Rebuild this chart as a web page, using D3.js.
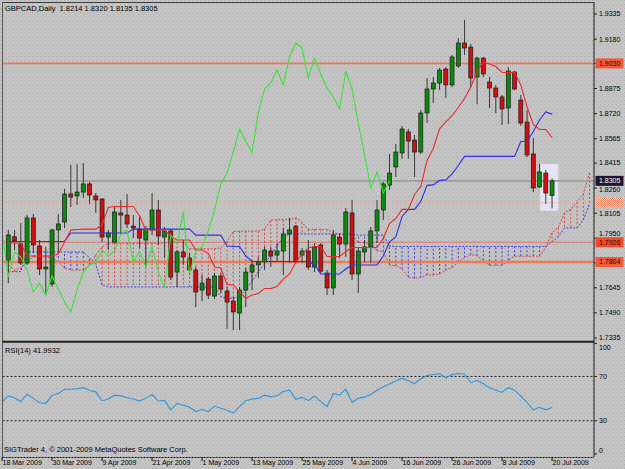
<!DOCTYPE html>
<html><head><meta charset="utf-8">
<script src="https://cdn.jsdelivr.net/npm/d3@7"></script>
<style>
body{margin:0;background:#c3c3c3;}
svg{display:block;font-family:"Liberation Sans",Arial,sans-serif;}
</style></head><body>
<svg id="c" width="625" height="469"></svg>
<script>
// ---------- DATA ----------
const symbolTitle = "GBPCAD,Daily  1.8214 1.8320 1.8135 1.8305";
const rsiTitle = "RSI(14) 41.9932";
const copyright = "SIGTrader 4, \u00a9 2001-2009 MetaQuotes Software Corp.";

const open = [1.7816,1.7960,1.7915,1.7798,1.8076,1.7903,1.7761,1.7668,1.8002,1.8051,
1.8224,1.8212,1.8236,1.8286,1.8212,1.8193,1.7958,1.7927,1.8107,1.8094,
1.8026,1.8008,1.7940,1.8002,1.8125,1.7958,1.7996,1.7742,1.7866,1.7829,
1.7755,1.7631,1.7699,1.7594,1.7718,1.7625,1.7563,1.7489,1.7631,1.7742,
1.7786,1.7804,1.7872,1.7847,1.7872,1.7977,1.8026,1.7847,1.7872,1.7773,
1.7909,1.7736,1.7644,1.7958,1.7915,1.8107,1.7730,1.7866,1.7897,1.7996,
1.8125,1.8279,1.8391,1.8477,1.8607,1.8557,1.8483,1.8724,1.8872,1.8909,
1.8995,1.8897,1.9014,1.9156,1.9131,1.8946,1.9063,1.8915,1.8878,1.8823,
1.8755,1.8977,1.8804,1.8668,1.8471,1.8267,1.8353,1.8214];
const high = [1.8002,1.8002,1.8045,1.8094,1.8101,1.7940,1.7897,1.8008,1.8101,1.8255,
1.8403,1.8409,1.8415,1.8298,1.8230,1.8199,1.8002,1.8150,1.8187,1.8224,
1.8094,1.8094,1.8026,1.8230,1.8187,1.8020,1.8008,1.7878,1.7940,1.7860,
1.7773,1.7724,1.7711,1.7736,1.7736,1.7650,1.7588,1.7650,1.7767,1.7816,
1.7835,1.7897,1.7897,1.7921,1.8014,1.8076,1.8033,1.7891,1.7940,1.7921,
1.7921,1.7755,1.8002,1.7983,1.8137,1.8187,1.7891,1.7940,1.8020,1.8187,
1.8298,1.8471,1.8533,1.8644,1.8625,1.8588,1.8742,1.8940,1.8946,1.9002,
1.9008,1.9082,1.9187,1.9298,1.9150,1.9070,1.9070,1.8946,1.8897,1.8835,
1.9008,1.8983,1.8835,1.8742,1.8570,1.8409,1.8372,1.8320];
const low = [1.7674,1.7878,1.7786,1.7786,1.7860,1.7724,1.7600,1.7650,1.7866,1.8014,
1.8144,1.8156,1.8199,1.8162,1.8107,1.7927,1.7878,1.7921,1.7971,1.8014,
1.7952,1.7891,1.7773,1.7971,1.7909,1.7829,1.7693,1.7650,1.7786,1.7724,
1.7526,1.7563,1.7576,1.7576,1.7613,1.7391,1.7384,1.7384,1.7526,1.7631,
1.7705,1.7755,1.7773,1.7804,1.7724,1.7798,1.7798,1.7798,1.7755,1.7742,
1.7736,1.7600,1.7600,1.7829,1.7835,1.7693,1.7613,1.7804,1.7798,1.7921,
1.8064,1.8249,1.8329,1.8440,1.8440,1.8329,1.8471,1.8662,1.8786,1.8866,
1.8816,1.8884,1.9002,1.9082,1.8884,1.8779,1.8946,1.8755,1.8724,1.8650,
1.8656,1.8866,1.8644,1.8452,1.8236,1.8261,1.8162,1.8135];
const close = [1.7971,1.7935,1.7798,1.8076,1.7909,1.7761,1.7773,1.8002,1.8039,1.8224,
1.8205,1.8236,1.8286,1.8218,1.8187,1.7958,1.7983,1.8113,1.8094,1.8039,
1.8014,1.7952,1.8008,1.8125,1.7965,1.7996,1.7711,1.7866,1.7835,1.7755,
1.7619,1.7674,1.7600,1.7718,1.7637,1.7557,1.7496,1.7631,1.7742,1.7786,
1.7804,1.7878,1.7841,1.7872,1.7977,1.8002,1.7804,1.7872,1.7773,1.7897,
1.7748,1.7644,1.7971,1.7915,1.8113,1.7730,1.7872,1.7897,1.7996,1.8125,
1.8286,1.8353,1.8483,1.8625,1.8551,1.8483,1.8724,1.8872,1.8909,1.8989,
1.8897,1.9070,1.9156,1.9125,1.8940,1.9063,1.8965,1.8878,1.8823,1.8749,
1.8983,1.8872,1.8662,1.8465,1.8261,1.8360,1.8230,1.8305];

// Ichimoku lines
const tenkan = [1.7921,1.7921,1.7921,1.7841,1.7841,1.7841,1.7841,1.7841,1.7853,1.7928,
1.8001,1.8005,1.8007,1.8007,1.8007,1.8032,1.8141,1.8147,1.8147,1.8147,
1.8147,1.8088,1.8002,1.8002,1.8002,1.8002,1.7962,1.7940,1.7940,1.7940,
1.7878,1.7878,1.7857,1.7773,1.7767,1.7666,1.7662,1.7622,1.7579,1.7600,
1.7610,1.7641,1.7641,1.7653,1.7699,1.7730,1.7801,1.7854,1.7891,1.7900,
1.7900,1.7838,1.7838,1.7838,1.7869,1.7894,1.7894,1.7894,1.7894,1.7894,
1.7949,1.8042,1.8073,1.8129,1.8129,1.8221,1.8270,1.8431,1.8505,1.8626,
1.8669,1.8706,1.8758,1.8814,1.8885,1.8980,1.9039,1.9027,1.9011,1.8974,
1.8974,1.8974,1.8897,1.8761,1.8653,1.8622,1.8622,1.8572];
const kijun = [1.7931,1.7931,1.7931,1.7931,1.7931,1.7931,1.7931,1.7931,1.7931,1.7931,
1.7983,1.7983,1.7983,1.7983,1.7983,1.7983,1.7983,1.7983,1.7983,1.7983,
1.8007,1.8007,1.8007,1.8007,1.8007,1.8007,1.8007,1.8007,1.8007,1.8007,
1.7970,1.7970,1.7970,1.7970,1.7970,1.7903,1.7900,1.7900,1.7841,1.7807,
1.7807,1.7807,1.7807,1.7807,1.7807,1.7807,1.7807,1.7807,1.7807,1.7786,
1.7730,1.7730,1.7730,1.7730,1.7761,1.7786,1.7786,1.7786,1.7786,1.7786,
1.7841,1.7928,1.7959,1.8085,1.8129,1.8129,1.8178,1.8277,1.8280,1.8308,
1.8311,1.8348,1.8400,1.8456,1.8456,1.8456,1.8456,1.8456,1.8456,1.8456,
1.8456,1.8456,1.8548,1.8548,1.8610,1.8681,1.8730,1.8717];
// Senkou spans (already shifted forward, first value at bar 0)
const spanA = [1.7786,1.7755,1.7767,1.7804,1.7835,1.7835,1.7835,1.7829,1.7804,1.7767,
1.7755,1.7755,1.7755,1.7786,1.7847,1.7897,1.7920,1.7920,1.7920,1.7920,
1.7920,1.7920,1.7920,1.7920,1.7920,1.7920,1.7926,1.7926,1.7926,1.7886,
1.7886,1.7886,1.7886,1.7886,1.7892,1.7930,1.7992,1.7994,1.7995,1.7995,
1.7995,1.8008,1.8062,1.8065,1.8065,1.8065,1.8077,1.8048,1.8005,1.8005,
1.8005,1.8005,1.7985,1.7974,1.7974,1.7974,1.7924,1.7924,1.7914,1.7872,
1.7869,1.7785,1.7781,1.7761,1.7710,1.7704,1.7709,1.7724,1.7724,1.7730,
1.7753,1.7769,1.7804,1.7831,1.7849,1.7843,1.7815,1.7784,1.7784,1.7784,
1.7815,1.7840,1.7840,1.7840,1.7840,1.7840,1.7895,1.7985,1.8016,1.8107,
1.8129,1.8175,1.8224,1.8354];
const spanB = [1.7745,1.7745,1.7745,1.7866,1.7866,1.7866,1.7866,1.7866,1.7866,1.7866,
1.7866,1.7866,1.7866,1.7830,1.7790,1.7662,1.7650,1.7650,1.7650,1.7650,
1.7650,1.7650,1.7650,1.7650,1.7650,1.7650,1.7650,1.7650,1.7650,1.7650,
1.7650,1.7650,1.7650,1.7650,1.7590,1.7580,1.7580,1.7590,1.7637,1.7686,
1.7742,1.7792,1.7847,1.7903,1.7958,1.7977,1.7977,1.7977,1.7977,1.7977,
1.7977,1.7977,1.7977,1.7977,1.7977,1.7977,1.7970,1.7970,1.7970,1.7970,
1.7970,1.7903,1.7900,1.7900,1.7900,1.7900,1.7900,1.7900,1.7900,1.7900,
1.7900,1.7900,1.7900,1.7900,1.7900,1.7900,1.7900,1.7900,1.7900,1.7900,
1.7900,1.7900,1.7900,1.7900,1.7900,1.7900,1.7900,1.7928,1.7959,1.8014,
1.8014,1.8014,1.8063,1.8162];
const chikouShift = 26;

// RSI(14), first value belongs to the bar before bar 0
const rsi = [47.2,52.2,50.7,47.2,54.0,50.2,46.3,45.7,52.8,54.6,
58.5,58.5,58.8,59.9,57.6,56.1,48.1,49.6,53.1,52.5,
50.7,49.6,47.8,50.2,53.7,47.8,48.4,39.8,45.7,43.9,
42.2,38.3,40.1,38.3,43.3,41.3,39.5,36.8,42.8,48.1,
49.6,50.2,53.1,51.6,52.5,56.4,57.6,49.3,51.1,48.1,
52.2,47.2,42.8,54.6,53.1,58.5,46.6,50.2,51.3,54.0,
57.6,60.8,63.2,65.9,68.5,66.2,63.5,67.9,70.9,71.8,
72.4,68.8,71.8,72.7,72.1,64.4,66.5,63.5,59.9,57.6,
55.8,59.9,57.6,52.2,46.6,39.8,42.2,39.8,41.99];
const rsiLevels = [70, 30];
const rsiTickLabels = [100, 70, 30, 0];

const priceTicks = [1.9335,1.9180,1.9030,1.8875,1.8720,1.8565,1.8415,1.8260,1.8105,1.7950,1.7800,1.7645,1.7490,1.7335];
const dateLabels = ["18 Mar 2009","30 Mar 2009","9 Apr 2009","21 Apr 2009","1 May 2009","13 May 2009","25 May 2009","4 Jun 2009","16 Jun 2009","26 Jun 2009","8 Jul 2009","20 Jul 2009"];
const dateBars = [-1,7,15,23,31,39,47,55,63,71,79,87];

const hLinePrices = [1.9030, 1.8305, 1.8170, 1.7926, 1.7804];
const hLineLabels = ["1.9030","1.8305","1.8170","1.7926","1.7804"];
const boxBars = [85.1, 88.0];
const boxPrices = [1.8409, 1.8121];

// ---------- LAYOUT ----------
const L = 2.5, R = 594, T = 3, MB = 341, RT = 342.5, RB = 457;
const x = d3.scaleLinear().domain([0, 87]).range([8.3, 552.05]);
const y = d3.scaleLinear().domain([1.7335, 1.9335]).range([338, 14]);
const yr = d3.scaleLinear().domain([0, 100]).range([453.9, 343.3]);

const svg = d3.select('#c');
const defs = svg.append('defs');
const pat = defs.append('pattern').attr('id','bg').attr('width',4).attr('height',4).attr('patternUnits','userSpaceOnUse');
pat.append('rect').attr('width',4).attr('height',4).attr('fill','#c4c4c4');
pat.append('rect').attr('x',0).attr('y',0).attr('width',1).attr('height',1).attr('fill','#aeaeae');
pat.append('rect').attr('x',2).attr('y',2).attr('width',1).attr('height',1).attr('fill','#b4b4b4');
const hatch = defs.append('pattern').attr('id','hatch').attr('width',2).attr('height',2).attr('patternUnits','userSpaceOnUse');
hatch.append('rect').attr('width',2).attr('height',2).attr('fill','#f6d2c0');
hatch.append('rect').attr('width',1).attr('height',1).attr('fill','#f08a68');
hatch.append('rect').attr('x',1).attr('y',1).attr('width',1).attr('height',1).attr('fill','#f08a68');
defs.append('clipPath').attr('id','cm').append('rect').attr('x',L).attr('y',T).attr('width',R-L).attr('height',MB-T);
defs.append('clipPath').attr('id','cr').append('rect').attr('x',L).attr('y',RT).attr('width',R-L).attr('height',RB-RT);

svg.append('rect').attr('width',625).attr('height',469).attr('fill','url(#bg)');

const g = svg.append('g').attr('clip-path','url(#cm)');

// highlight box
g.append('rect').attr('x', x(boxBars[0])).attr('width', x(boxBars[1]) - x(boxBars[0]))
  .attr('y', y(boxPrices[0])).attr('height', y(boxPrices[1]) - y(boxPrices[0]))
  .attr('fill', '#e4e4f6');

// cloud histogram
const kIdx = d3.range(spanA.length);
g.append('g').selectAll('line').data(kIdx).join('line')
  .attr('x1', k => x(k)).attr('x2', k => x(k))
  .attr('y1', k => y(spanA[k])).attr('y2', k => y(spanB[k]))
  .attr('stroke', k => spanA[k] >= spanB[k] ? '#e84040' : '#4040e8')
  .attr('stroke-width', 1).attr('stroke-dasharray', '2,2');
const lineIdx = d3.line().x((d, i) => x(i)).y(d => y(d));
g.append('path').attr('d', lineIdx(spanA)).attr('fill','none').attr('stroke','#e84040').attr('stroke-width',1).attr('stroke-dasharray','2,1.5');
g.append('path').attr('d', lineIdx(spanB)).attr('fill','none').attr('stroke','#4040e8').attr('stroke-width',1).attr('stroke-dasharray','2,1.5');

// horizontal lines
const hStyles = [
  {c:'#f07a58', w:1.6, d:null},
  {c:'#9c9c9c', w:1.6, d:null},
  {c:'#f4a084', w:1, d:'1,1'},
  {c:'#f03010', w:1, d:'1,1'},
  {c:'#f07a58', w:2.4, d:null}
];
hLinePrices.forEach((p, i) => {
  const ln = g.append('line').attr('x1', L).attr('x2', R).attr('y1', y(p)).attr('y2', y(p))
    .attr('stroke', hStyles[i].c).attr('stroke-width', hStyles[i].w);
  if (hStyles[i].d) ln.attr('stroke-dasharray', hStyles[i].d);
});

// candles
const idx = d3.range(open.length);
const cg = g.append('g');
cg.selectAll('line').data(idx).join('line')
  .attr('x1', i => x(i)).attr('x2', i => x(i))
  .attr('y1', i => y(high[i])).attr('y2', i => y(low[i]))
  .attr('stroke', '#383838').attr('stroke-width', 1);
cg.selectAll('rect').data(idx).join('rect')
  .attr('x', i => x(i) - 2).attr('width', 4)
  .attr('y', i => y(Math.max(open[i], close[i])))
  .attr('height', i => Math.max(1, Math.abs(y(open[i]) - y(close[i]))))
  .attr('fill', i => close[i] >= open[i] ? '#0c8a0c' : '#d01010')
  .attr('stroke', '#1c1c1c').attr('stroke-width', 0.7);

// Tenkan, Kijun, Chikou
g.append('path').attr('d', lineIdx(kijun)).attr('fill','none').attr('stroke','#3030e6').attr('stroke-width',1.1);
g.append('path').attr('d', lineIdx(tenkan)).attr('fill','none').attr('stroke','#ee2a2a').attr('stroke-width',1.1);
const chIdx = d3.range(chikouShift - 1, close.length);
g.append('path').attr('d', d3.line().x(i => x(i - chikouShift)).y(i => y(close[i]))(chIdx))
  .attr('fill','none').attr('stroke','#3ee03e').attr('stroke-width',1.1);

// RSI panel
const rg = svg.append('g').attr('clip-path','url(#cr)');
rsiLevels.forEach(v => {
  rg.append('line').attr('x1', L).attr('x2', R).attr('y1', yr(v)).attr('y2', yr(v))
    .attr('stroke', '#111').attr('stroke-width', 0.9).attr('stroke-dasharray', '2,2');
});
rg.append('path').attr('d', d3.line().x((d, i) => x(i - 1)).y(d => yr(d))(rsi))
  .attr('fill','none').attr('stroke','#2d95dc').attr('stroke-width',1.1);

// frames
const fr = svg.append('g').attr('stroke','#3a3a3a').attr('fill','none');
fr.append('line').attr('x1', L).attr('x2', L).attr('y1', 2.5).attr('y2', RB).attr('stroke','#555');
fr.append('line').attr('x1', R).attr('x2', R).attr('y1', 2.5).attr('y2', RB).attr('stroke-width',1.2);
fr.append('line').attr('x1', L).attr('x2', R).attr('y1', 2.5).attr('y2', 2.5);
fr.append('line').attr('x1', L).attr('x2', R).attr('y1', 341.8).attr('y2', 341.8).attr('stroke-width', 2).attr('stroke','#222');
fr.append('line').attr('x1', L).attr('x2', R).attr('y1', RB + 0.5).attr('y2', RB + 0.5).attr('stroke','#111').attr('stroke-dasharray','2,1');

// price axis
const ax = svg.append('g').attr('font-size', 7).attr('fill', '#000');
priceTicks.forEach(p => {
  ax.append('line').attr('x1', R).attr('x2', R + 3).attr('y1', y(p)).attr('y2', y(p)).attr('stroke', '#222');
  // distance to the nearest horizontal-line label (those boxes sit on top)
  const near = d3.least(hLinePrices, h => Math.abs(y(h) - y(p)));
  const dist = y(p) - y(near);
  if (Math.abs(dist) < 2.5) return;          // hidden under the line's label box
  let ty = y(p);
  if (Math.abs(dist) < 9) ty = y(near) + (dist < 0 ? -9 : 9);
  ax.append('text').attr('x', R + 5).attr('y', ty).attr('dy', '0.35em').text(d3.format('.4f')(p));
});
// horizontal line labels
const lblStyles = [
  {bg:'#f2583a', fg:'#2a0a00'},
  {bg:'#1c1630', fg:'#ffffff'},
  {bg:'url(#hatch)', fg:'#e8906c'},
  {bg:'#f04a2a', fg:'#2a0a00'},
  {bg:'#f2583a', fg:'#2a0a00'}
];
hLinePrices.forEach((p, i) => {
  ax.append('rect').attr('x', R + 1.5).attr('y', y(p) - 5).attr('width', 28).attr('height', 10).attr('fill', lblStyles[i].bg);
  ax.append('text').attr('x', R + 5).attr('y', y(p)).attr('dy', '0.35em').attr('fill', lblStyles[i].fg).text(hLineLabels[i]);
});

// RSI axis
rsiTickLabels.forEach(v => {
  const yy = Math.max(348, Math.min(451, yr(v)));
  ax.append('line').attr('x1', R).attr('x2', R + 3).attr('y1', yr(v)).attr('y2', yr(v)).attr('stroke', '#222');
  ax.append('text').attr('x', R + 5).attr('y', yy).attr('dy', '0.35em').text(v);
});

// time axis
dateBars.forEach((b, i) => {
  ax.append('line').attr('x1', x(b)).attr('x2', x(b)).attr('y1', RB).attr('y2', RB + 4).attr('stroke', '#111');
  ax.append('text').attr('x', x(b) + 0.5).attr('y', 465).text(dateLabels[i]);
});

// titles
svg.append('text').attr('x', 5).attr('y', 11).attr('font-size', 7.5).attr('xml:space','preserve').text(symbolTitle);
svg.append('text').attr('x', 5).attr('y', 353).attr('font-size', 7.5).text(rsiTitle);
svg.append('text').attr('x', 4).attr('y', 452).attr('font-size', 7.5).text(copyright);
</script>
</body></html>
